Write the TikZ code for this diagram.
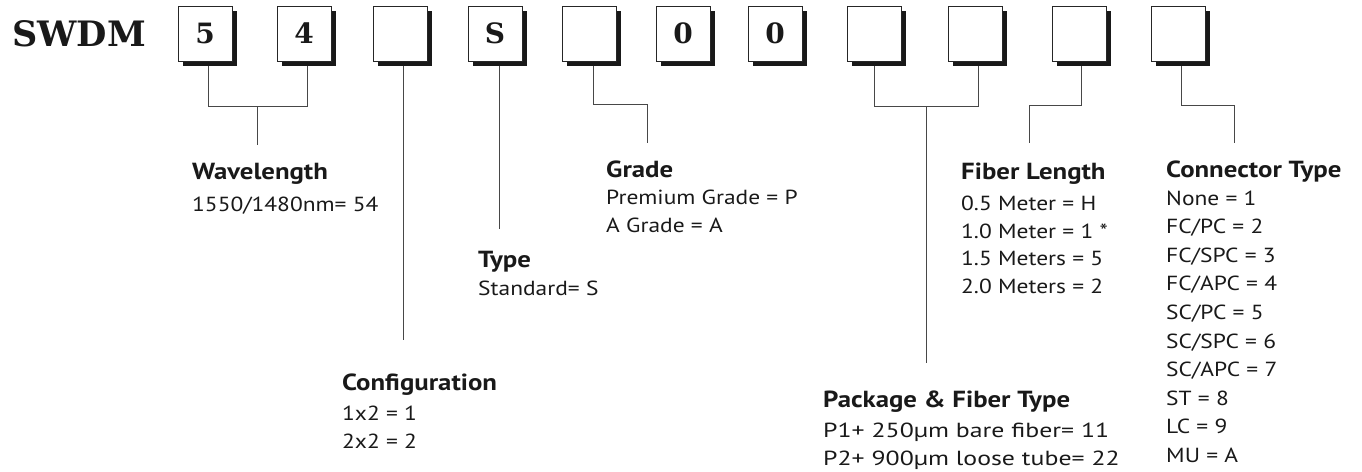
\documentclass[tikz,border=0pt]{standalone}
\usepackage{fontspec}
\setmainfont{PT Sans}[FakeStretch=1.15]
\newfontfamily\titlefont{DejaVu Serif}
\usetikzlibrary{shadows}
\begin{document}
\begin{tikzpicture}[x=1pt,y=-1pt,
  cbox/.style={draw=black!85, line width=0.9pt, fill=white, minimum width=54pt, minimum height=55pt, inner sep=0pt,
    font=\titlefont\bfseries\fontsize{28}{28}\selectfont, text=black!90,
    general shadow={fill=black!90, shadow xshift=5pt, shadow yshift=-5pt}},
  conn/.style={draw=black!72, line width=1pt},
  head/.style={anchor=base west, inner sep=0pt, font=\bfseries\fontsize{23.3}{26}\selectfont, text=black!90},
  body/.style={anchor=base west, inner sep=0pt, font=\fontsize{20.4}{24}\selectfont, text=black!90}]
\useasboundingbox (0,0) rectangle (1362,471);

\node[anchor=base west, inner sep=0pt, font=\titlefont\bfseries\fontsize{35}{35}\selectfont, text=black!90] (title) at (12,46) {SWDM};

\node[cbox] (b1) at (205,33.5) {5};
\node[cbox] (b2) at (304,33.5) {4};
\node[cbox] (b3) at (400,33.5) {};
\node[cbox] (b4) at (495,33.5) {S};
\node[cbox] (b5) at (589,33.5) {};
\node[cbox] (b6) at (683,33.5) {0};
\node[cbox] (b7) at (775,33.5) {0};
\node[cbox] (b8) at (874,33.5) {};
\node[cbox] (b9) at (975,33.5) {};
\node[cbox] (b10) at (1079,33.5) {};
\node[cbox] (b11) at (1178,33.5) {};

% free ends
\coordinate (wlj) at (257,106);
\coordinate (wl) at (257,145);
\coordinate (cf) at (403,340);
\coordinate (ty) at (499,229);
\coordinate (gr) at (647,143);
\coordinate (pkj) at (926,106);
\coordinate (pk) at (926,363);
\coordinate (fl) at (1029,143);
\coordinate (ct) at (1234,143);

\draw[conn] ([xshift=3pt,yshift=-5pt]b1.south) -- ++(0,40) -- ++(99,0) -- ([xshift=3pt,yshift=-5pt]b2.south);
\draw[conn] (wlj) -- (wl);
\draw[conn] ([xshift=3pt,yshift=-5pt]b3.south) -- (cf);
\draw[conn] ([xshift=4pt,yshift=-5pt]b4.south) -- (ty);
\draw[conn] ([xshift=4pt,yshift=-5pt]b5.south) -- ++(0,38) -| (gr);
\draw[conn] ([yshift=-5pt]b8.south) -- ++(0,40) -| ([xshift=3pt,yshift=-5pt]b9.south);
\draw[conn] (pkj) -- (pk);
\draw[conn] ([xshift=2pt,yshift=-5pt]b10.south) -- ++(0,39) -| (fl);
\draw[conn] ([xshift=3pt,yshift=-5pt]b11.south) -- ++(0,39) -| (ct);

% Wavelength
\node[head] (wlh) at (192,179) {Wavelength};
\node[body] (wl1) at (192,211) {1550/1480nm= 54};
% Configuration
\node[head] (cfh) at (342,390) {Configuration};
\node[body] (cf1) at (342,420) {1x2 = 1};
\node[body] (cf2) at (342,448) {2x2 = 2};
% Type
\node[head] (tyh) at (478,267) {Type};
\node[body] (ty1) at (478,295) {Standard= S};
% Grade
\node[head] (grh) at (606,177) {Grade};
\node[body] (gr1) at (606,204) {Premium Grade = P};
\node[body] (gr2) at (606,232) {A Grade = A};
% Package
\node[head] (pkh) at (823,407) {Package \& Fiber Type};
\node[body] (pk1) at (823,437) {\scalebox{1.1}[1]{P1+ 250µm bare fiber= 11}};
\node[body] (pk2) at (823,465) {\scalebox{1.1}[1]{P2+ 900µm loose tube= 22}};
% Fiber length
\node[head] (flh) at (961,179) {Fiber Length};
\foreach \t [count=\i] in {0.5 Meter = H, 1.0 Meter = 1 *, 1.5 Meters = 5, 2.0 Meters = 2}
  \node[body] (fl\i) at (961,{183+27.6*\i}) {\t};
% Connector type
\node[head] (cth) at (1166,177) {Connector Type};
\foreach \t [count=\i] in {None = 1, FC/PC = 2, FC/SPC = 3, FC/APC = 4, SC/PC = 5, SC/SPC = 6, SC/APC = 7, ST = 8, LC = 9, MU = A}
  \node[body] (ct\i) at (1166,{176.4+28.6*\i}) {\t};
\end{tikzpicture}
\end{document}
